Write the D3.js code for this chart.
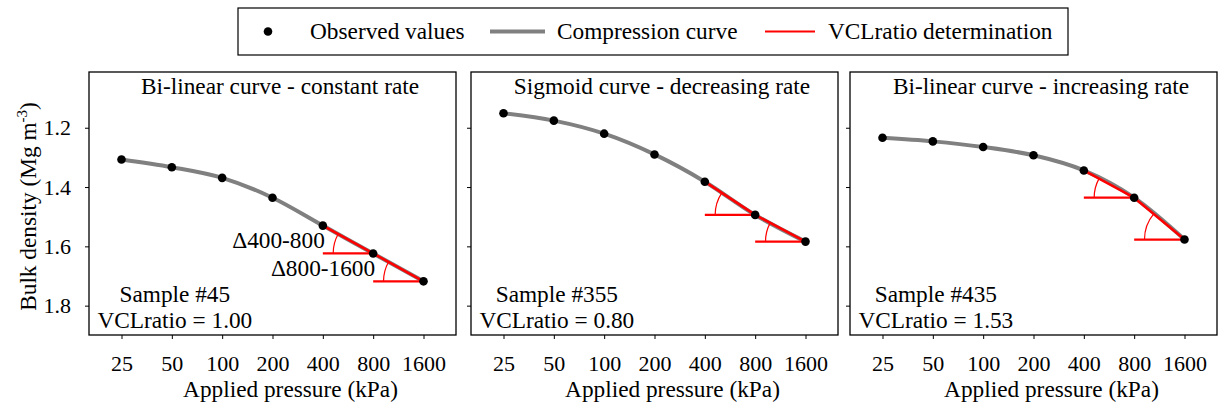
<!DOCTYPE html>
<html>
<head>
<meta charset="utf-8">
<script src="https://cdn.jsdelivr.net/npm/d3@7"></script>
</head>
<body style="margin:0;background:#fff">
<svg id="chart" width="1220" height="408"></svg>
<script>
// Applied pressure steps (kPa)
const pressures = [25, 50, 100, 200, 400, 800, 1600];

// Bulk density (Mg m-3) observed at each pressure step
const densityConstant   = [1.307, 1.333, 1.369, 1.436, 1.530, 1.624, 1.718];
const densityDecreasing = [1.151, 1.176, 1.220, 1.290, 1.382, 1.494, 1.584];
const densityIncreasing = [1.234, 1.246, 1.265, 1.293, 1.344, 1.436, 1.577];

const panelTitles = [
  "Bi-linear curve - constant rate",
  "Sigmoid curve - decreasing rate",
  "Bi-linear curve - increasing rate"
];
const sampleNames = ["Sample #45", "Sample #355", "Sample #435"];
const vclRatios = [1.00, 0.80, 1.53];
const deltaLabels = ["\u0394400-800", "\u0394800-1600"];

const yTicks = [1.2, 1.4, 1.6, 1.8];
const xTicks = [25, 50, 100, 200, 400, 800, 1600];
const legendLabels = ["Observed values", "Compression curve", "VCLratio determination"];

const seriesList = [densityConstant, densityDecreasing, densityIncreasing];

// ---- layout ----
const svg = d3.select("#chart");
svg.append("rect").attr("width", 1220).attr("height", 408).attr("fill", "#fff");

const panelLefts = [89, 471, 850];
const panelWidth = 367;
const plotTop = 72, plotBottom = 335;
const xPad = 32.5;
const SERIF = "Liberation Serif";
const FONT = 23.3;
const TICK_FONT = 22;

const grey = "#808080";
const red = "#ff0000";

function label(sel, size) {
  return sel.attr("font-family", SERIF).style("font-family", SERIF)
    .style("font-size", size + "px").attr("fill", "#000");
}

seriesList.forEach((values, i) => {
  const left = panelLefts[i];
  const right = left + panelWidth;
  const g = svg.append("g");

  const x = d3.scaleLog().base(2).domain([25, 1600]).range([left + xPad, right - xPad]);
  const y = d3.scaleLinear().domain([1.012, 1.899]).range([plotTop, plotBottom]);

  const pts = pressures.map((p, k) => ({ p, v: values[k] }));

  // x axis (ticks below the frame)
  const xAxis = d3.axisBottom(x).tickValues(xTicks).tickFormat(d3.format("d"))
    .tickSize(4).tickPadding(16);
  const xg = g.append("g").attr("transform", `translate(0,${plotBottom})`).call(xAxis)
    .attr("font-family", SERIF);
  xg.select(".domain").remove();
  xg.selectAll("line").attr("stroke", "#000");
  label(xg.selectAll("text"), TICK_FONT);

  // y axis (labels only on the first panel)
  const yAxis = d3.axisLeft(y).tickValues(yTicks).tickSize(4).tickPadding(14)
    .tickFormat(i === 0 ? d3.format(".1f") : () => "");
  const yg = g.append("g").attr("transform", `translate(${left},0)`).call(yAxis)
    .attr("font-family", SERIF);
  yg.select(".domain").remove();
  yg.selectAll("line").attr("stroke", "#000");
  label(yg.selectAll("text"), TICK_FONT);

  // frame
  g.append("rect")
    .attr("x", left).attr("y", plotTop)
    .attr("width", panelWidth).attr("height", plotBottom - plotTop)
    .attr("fill", "none").attr("stroke", "#000").attr("stroke-width", 1.3);

  // fitted compression curve
  const line = d3.line().x(d => x(d.p)).y(d => y(d.v)).curve(d3.curveMonotoneX);
  g.append("path").datum(pts).attr("d", line)
    .attr("fill", "none").attr("stroke", grey).attr("stroke-width", 4);

  // VCL ratio construction: 400-800 and 800-1600 slopes with horizontal references
  const p400 = pts[4], p800 = pts[5], p1600 = pts[6];
  const segs = [[p400, p800], [p800, p1600]];
  segs.forEach(([a, b]) => {
    const ax = x(a.p), ay = y(a.v), bx = x(b.p), by = y(b.v);
    g.append("line").attr("x1", ax).attr("y1", by).attr("x2", bx).attr("y2", by)
      .attr("stroke", red).attr("stroke-width", 2.2);
    g.append("line").attr("x1", ax).attr("y1", ay).attr("x2", bx).attr("y2", by)
      .attr("stroke", red).attr("stroke-width", 2.6);
    const r = 40;
    const ang = Math.atan2(ay - by, ax - bx);
    const pth = d3.path();
    pth.moveTo(bx - r, by);
    pth.arc(bx, by, r, Math.PI, ang + 2 * Math.PI, false);
    g.append("path").attr("d", pth.toString())
      .attr("fill", "none").attr("stroke", red).attr("stroke-width", 1.2);
  });

  // observed points
  g.selectAll("circle.obs").data(pts).join("circle")
    .attr("class", "obs")
    .attr("cx", d => x(d.p)).attr("cy", d => y(d.v)).attr("r", 4.3)
    .attr("fill", "#000");

  // slope labels on the first panel
  if (i === 0) {
    segs.forEach(([a, b], k) => {
      label(g.append("text"), FONT).attr("x", x(a.p) + 2).attr("y", y(b.v) - 5)
        .attr("text-anchor", "end").text(deltaLabels[k]);
    });
  }

  // panel title
  label(g.append("text"), FONT).attr("x", left + 191).attr("y", 94)
    .attr("text-anchor", "middle").text(panelTitles[i]);

  // sample annotation
  label(g.append("text"), FONT).attr("x", x(50) + 3).attr("y", 302)
    .attr("text-anchor", "middle").text(sampleNames[i]);
  label(g.append("text"), FONT).attr("x", x(50) + 3).attr("y", 328)
    .attr("text-anchor", "middle")
    .text("VCLratio = " + vclRatios[i].toFixed(2));

  // x axis title
  label(g.append("text"), FONT).attr("x", left + panelWidth / 2 + 18).attr("y", 397)
    .attr("text-anchor", "middle").text("Applied pressure (kPa)");
});

// y axis title with superscript
const yt = label(svg.append("text"), FONT)
  .attr("transform", `translate(36,${(plotTop + plotBottom) / 2 + 3}) rotate(-90)`)
  .attr("text-anchor", "middle");
yt.append("tspan").text("Bulk density (Mg m");
yt.append("tspan").style("font-size", "15px").attr("dy", -9).text("-3");
yt.append("tspan").attr("dy", 9).text(")");

// legend
const lg = svg.append("g");
lg.append("rect").attr("x", 238).attr("y", 8).attr("width", 830).attr("height", 47)
  .attr("fill", "#fff").attr("stroke", "#000").attr("stroke-width", 1.2);
const ly = 31.5;
lg.append("circle").attr("cx", 268).attr("cy", ly).attr("r", 4.3).attr("fill", "#000");
label(lg.append("text"), FONT).attr("x", 310).attr("y", ly + 7.5).text(legendLabels[0]);
lg.append("line").attr("x1", 490).attr("x2", 545).attr("y1", ly).attr("y2", ly)
  .attr("stroke", grey).attr("stroke-width", 4);
label(lg.append("text"), FONT).attr("x", 557).attr("y", ly + 7.5).text(legendLabels[1]);
lg.append("line").attr("x1", 765).attr("x2", 815).attr("y1", ly).attr("y2", ly)
  .attr("stroke", red).attr("stroke-width", 2.2);
label(lg.append("text"), FONT).attr("x", 828).attr("y", ly + 7.5).text(legendLabels[2]);
</script>
</body>
</html>
